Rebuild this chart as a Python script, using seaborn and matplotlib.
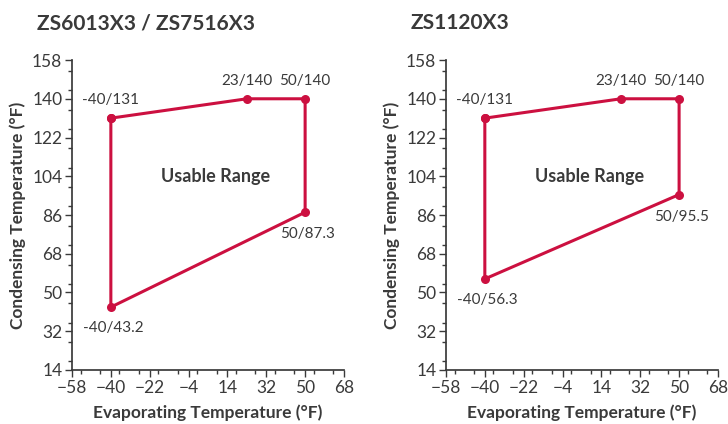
import matplotlib
matplotlib.use("Agg")
import matplotlib.pyplot as plt
import seaborn as sns
import pandas as pd
from matplotlib.ticker import MultipleLocator

# envelope corners (evap F, cond F), closed polygon
titles = ["ZS6013X3 / ZS7516X3", "ZS1120X3"]
evap_a = [-40, 23, 50, 50, -40, -40]
cond_a = [131, 140, 140, 87.3, 43.2, 131]
evap_b = [-40, 23, 50, 50, -40, -40]
cond_b = [131, 140, 140, 95.5, 56.3, 131]
x_ticks = [-58, -40, -22, -4, 14, 32, 50, 68]
y_ticks = [14, 32, 50, 68, 86, 104, 122, 140, 158]

sns.set_theme(style="ticks")
plt.rcParams['font.family'] = ['Lato', 'DejaVu Sans']
ink = "#3a3a3a"
red = "#cc1040"

fig = plt.figure(figsize=(7.28, 4.24), dpi=100)
ax1 = fig.add_axes([0.0989, 0.1274, 0.3736, 0.731])
ax2 = fig.add_axes([0.6126, 0.1274, 0.3736, 0.731])

# label offsets in points for each corner (skip the closing point)
offs = [(0, 8, "center", "bottom"), (0, 8, "center", "bottom"), (0, 8, "center", "bottom"),
        (2, -11, "center", "top"), (2, -10, "center", "top")]

for ax, t, ex, co in [(ax1, titles[0], evap_a, cond_a), (ax2, titles[1], evap_b, cond_b)]:
    df = pd.DataFrame({"evap": ex, "cond": co})
    sns.lineplot(data=df, x="evap", y="cond", sort=False, ax=ax, color=red, linewidth=2.2,
                 marker="o", markersize=6.5, markeredgewidth=0, estimator=None)
    for i in range(len(ex) - 1):
        dx, dy, ha, va = offs[i]
        v = co[i]
        lab = f"{ex[i]}/{v:g}"
        ax.annotate(lab, (ex[i], v), xytext=(dx, dy), textcoords="offset points",
                    ha=ha, va=va, fontsize=11, color=ink)
    ax.text(8.7, 104, "Usable Range", ha="center", va="center", fontsize=13,
            fontweight="bold", color=ink)
    ax.set_xlim(-58, 68)
    ax.set_ylim(14, 158)
    ax.set_xticks(x_ticks)
    ax.set_yticks(y_ticks)
    ax.xaxis.set_minor_locator(MultipleLocator(9))
    ax.yaxis.set_minor_locator(MultipleLocator(9))
    ax.tick_params(which="major", length=5, width=1, colors=ink, labelsize=12.5, pad=2)
    ax.tick_params(which="minor", length=3, width=1, colors=ink)
    for s in ["left", "bottom"]:
        ax.spines[s].set_color(ink)
    sns.despine(ax=ax)
    ax.set_xlabel("Evaporating Temperature (°F)", fontsize=12.5, fontweight="bold",
                  color=ink, labelpad=6)
    ax.set_ylabel("Condensing Temperature (°F)", fontsize=12.5, fontweight="bold",
                  color=ink, labelpad=4)
    ax.set_title(t, loc="left", fontsize=15, fontweight="bold", color=ink,
                 x=-0.13, pad=22)

fig.savefig("out.png", dpi=100)
